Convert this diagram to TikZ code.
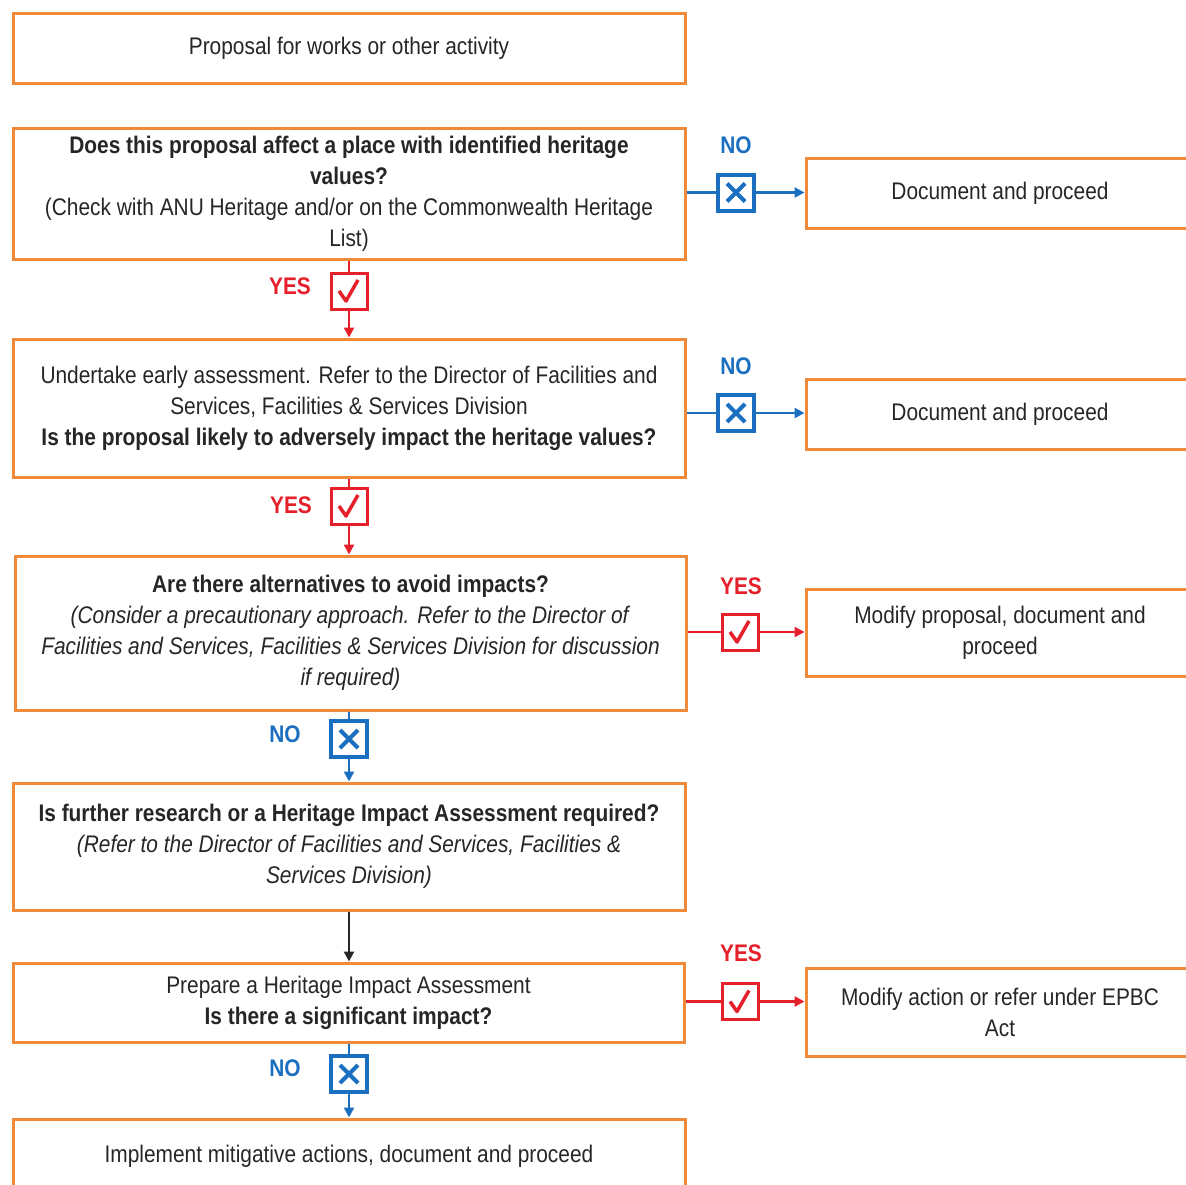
\documentclass[tikz,border=0pt]{standalone}
\usepackage{fontspec}
\setmainfont{Liberation Sans}[FakeStretch=0.87]
\usetikzlibrary{arrows.meta,calc}
\definecolor{boxorange}{HTML}{EE8A3A}
\definecolor{myblue}{HTML}{1A6FC0}
\definecolor{myred}{HTML}{E5202A}
\definecolor{txt}{HTML}{262626}
\begin{document}
\begin{tikzpicture}[x=1pt,y=-1pt,
  box/.style={draw=boxorange,line width=3pt,fill=white,align=center,
    font=\fontsize{24}{31}\selectfont,text=txt,inner sep=0pt},
  lab/.style={font=\fontsize{24}{24}\selectfont\bfseries,inner sep=0pt},
  chk/.style={draw=myred,line width=3pt,minimum size=36pt,inner sep=0pt,fill=white,
    path picture={\draw[myred,line width=3.5pt,line join=round]
      ($(path picture bounding box.center)+(-10,0)$) -- ++(7,10) -- ++(12,-21);}},
  crs/.style={draw=myblue,line width=4pt,minimum size=36pt,inner sep=0pt,fill=white,
    path picture={\draw[myblue,line width=4pt]
      ($(path picture bounding box.center)+(-9,-9)$) -- ++(18,18)
      ($(path picture bounding box.center)+(9,-9)$) -- ++(-18,18);}},
  con/.style={line width=2.5pt},
  tip/.style={-{Triangle[length=10pt,width=10pt]}}
]
\clip (0,0) rectangle (1186,1184);
\fill[white] (0,0) rectangle (1186,1184);

% main column
\node[box,minimum width=672pt,minimum height=70pt] (b1) at (349,48)
  {Proposal for works or other activity};
\node[box,minimum width=672pt,minimum height=131pt] (b2) at (349,193.5)
  {\textbf{Does this proposal affect a place with identified heritage}\\
   \textbf{values?}\\
   (Check with ANU Heritage and/or on the Commonwealth Heritage\\
   List)};
\node[box,minimum width=672pt,minimum height=138pt] (b3) at (349,408)
  {Undertake early assessment. Refer to the Director of Facilities and\\
   Services, Facilities \& Services Division\\
   \textbf{Is the proposal likely to adversely impact the heritage values?}};
\node[box,minimum width=671pt,minimum height=154pt] (b4) at (350.5,633)
  {\textbf{Are there alternatives to avoid impacts?}\\
   \textit{(Consider a precautionary approach. Refer to the Director of}\\
   \textit{Facilities and Services, Facilities \& Services Division for discussion}\\
   \textit{if required)}};
\node[box,minimum width=672pt,minimum height=127pt] (b5) at (349,846.5)
  {\textbf{Is further research or a Heritage Impact Assessment required?}\\
   \textit{(Refer to the Director of Facilities and Services, Facilities \&}\\
   \textit{Services Division)}};
\node[box,minimum width=671pt,minimum height=79pt] (b6) at (348.5,1002.5)
  {Prepare a Heritage Impact Assessment\\
   \textbf{Is there a significant impact?}};
\node[box,minimum width=672pt,minimum height=74pt] (b7) at (349,1156)
  {Implement mitigative actions, document and proceed};

% right column
\node[box,minimum width=388pt,minimum height=70pt] (r1) at (1000,193.5)
  {Document and proceed};
\node[box,minimum width=388pt,minimum height=70pt] (r2) at (1000,414)
  {Document and proceed};
\node[box,minimum width=388pt,minimum height=87pt] (r3) at (1000,633)
  {Modify proposal, document and\\proceed};
\node[box,minimum width=388pt,minimum height=88pt] (r4) at (1000,1012)
  {Modify action or refer under EPBC\\Act};

% decision markers
\node[crs] (x1) at (736,192.5) {};
\node[lab,text=myblue] (n1) at (736,145) {NO};
\node[chk] (c1) at (349,291) {};
\node[lab,text=myred] (y1) at (290,286) {YES};
\node[crs] (x2) at (736,413) {};
\node[lab,text=myblue] (n2) at (736,366) {NO};
\node[chk] (c2) at (349,506) {};
\node[lab,text=myred] (y2) at (291,505) {YES};
\node[chk] (c3) at (740,632) {};
\node[lab,text=myred] (y3) at (741,586) {YES};
\node[crs] (x3) at (349,739) {};
\node[lab,text=myblue] (n3) at (285,734) {NO};
\node[chk] (c4) at (740,1001.5) {};
\node[lab,text=myred] (y4) at (741,953) {YES};
\node[crs] (x4) at (349,1074) {};
\node[lab,text=myblue] (n4) at (285,1068) {NO};

% connectors
\draw[con,myblue] (b2.east |- x1) -- (x1.west);
\draw[con,myblue,tip] (x1.east) -- (r1.west |- x1);
\draw[con,myred] (b2.south) -- (c1.north);
\draw[con,myred,tip] (c1.south) -- (b3.north);
\draw[con,myblue] (b3.east |- x2) -- (x2.west);
\draw[con,myblue,tip] (x2.east) -- (r2.west |- x2);
\draw[con,myred] (b3.south) -- (c2.north);
\draw[con,myred,tip] (c2.south) -- (c2.south |- b4.north);
\draw[con,myred] (b4.east |- c3) -- (c3.west);
\draw[con,myred,tip] (c3.east) -- (r3.west |- c3);
\draw[con,myblue] (x3.north |- b4.south) -- (x3.north);
\draw[con,myblue,tip] (x3.south) -- (x3.south |- b5.north);
\draw[con,black!85,tip] (b5.south) -- (b5.south |- b6.north);
\draw[con,myred] (b6.east |- c4) -- (c4.west);
\draw[con,myred,tip] (c4.east) -- (r4.west |- c4);
\draw[con,myblue] (x4.north |- b6.south) -- (x4.north);
\draw[con,myblue,tip] (x4.south) -- (x4.south |- b7.north);
\end{tikzpicture}
\end{document}
